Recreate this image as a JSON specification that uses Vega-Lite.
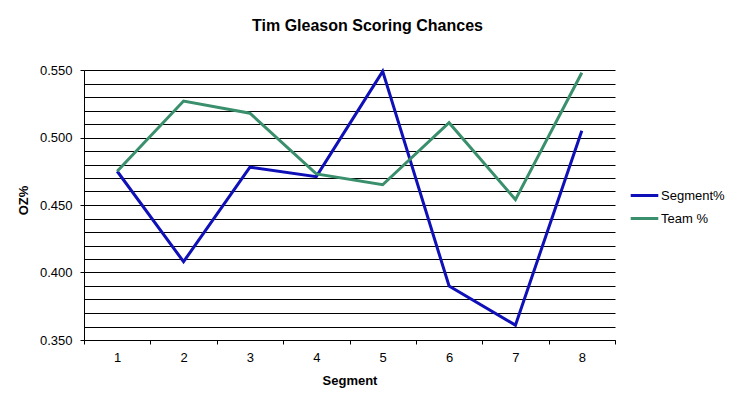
{
  "$schema": "https://vega.github.io/schema/vega-lite/v6.json",
  "width": 531,
  "height": 270,
  "autosize": {"type": "none"},
  "padding": {"left": 84, "top": 70, "right": 120, "bottom": 68},
  "background": "white",
  "config": {
    "view": {"stroke": null},
    "font": "Liberation Sans",
    "axis": {"labelFont": "Liberation Sans", "titleFont": "Liberation Sans", "labelColor": "black", "titleColor": "black", "domainColor": "black", "tickColor": "black", "labelFontSize": 13, "titleFontSize": 13, "titleFontWeight": "bold"}
  },
  "title": {"text": "Tim Gleason Scoring Chances", "font": "Liberation Sans", "fontSize": 16, "fontWeight": "bold", "color": "black", "anchor": "middle", "dx": 18, "offset": 30},
  "data": {
    "values": [
      {"segment": 1, "series": "Segment%", "value": 0.475},
      {"segment": 2, "series": "Segment%", "value": 0.408},
      {"segment": 3, "series": "Segment%", "value": 0.478},
      {"segment": 4, "series": "Segment%", "value": 0.471},
      {"segment": 5, "series": "Segment%", "value": 0.549},
      {"segment": 6, "series": "Segment%", "value": 0.390},
      {"segment": 7, "series": "Segment%", "value": 0.361},
      {"segment": 8, "series": "Segment%", "value": 0.505},
      {"segment": 1, "series": "Team %", "value": 0.475},
      {"segment": 2, "series": "Team %", "value": 0.527},
      {"segment": 3, "series": "Team %", "value": 0.518},
      {"segment": 4, "series": "Team %", "value": 0.473},
      {"segment": 5, "series": "Team %", "value": 0.465},
      {"segment": 6, "series": "Team %", "value": 0.511},
      {"segment": 7, "series": "Team %", "value": 0.454},
      {"segment": 8, "series": "Team %", "value": 0.548}
    ]
  },
  "mark": {"type": "line", "strokeWidth": 3},
  "encoding": {
    "x": {
      "field": "segment", "type": "ordinal", "bandPosition": 0.5,
      "scale": {"type": "band", "paddingInner": 0, "paddingOuter": 0},
      "axis": {"title": "Segment", "labelAngle": 0, "tickBand": "extent", "tickSize": 4, "labelPadding": 7, "titlePadding": 10, "grid": false}
    },
    "y": {
      "field": "value", "type": "quantitative",
      "scale": {"domain": [0.35, 0.55], "nice": false, "zero": false},
      "axis": {
        "title": "OZ%",
        "values": [0.35, 0.36, 0.37, 0.38, 0.39, 0.40, 0.41, 0.42, 0.43, 0.44, 0.45, 0.46, 0.47, 0.48, 0.49, 0.50, 0.51, 0.52, 0.53, 0.54, 0.55],
        "labelExpr": "abs(datum.value*20 - round(datum.value*20)) < 0.001 ? format(datum.value, '.3f') : ''",
        "labelOverlap": false,
        "tickSize": 4,
        "labelPadding": 8,
        "tickOpacity": {"condition": {"test": "abs(datum.value*20 - round(datum.value*20)) < 0.001", "value": 1}, "value": 0},
        "grid": true, "gridColor": "black", "gridOpacity": 1, "gridWidth": 1,
        "titleX": -54, "titleY": 130, "titleAngle": -90
      }
    },
    "color": {
      "field": "series", "type": "nominal",
      "scale": {"domain": ["Segment%", "Team %"], "range": ["#1010B8", "#3A8F6C"]},
      "legend": {"title": null, "orient": "none", "legendX": 545, "legendY": 110, "symbolType": "stroke", "symbolSize": 760, "symbolStrokeWidth": 3, "labelFont": "Liberation Sans", "labelFontSize": 13, "labelColor": "black", "labelOffset": 1, "rowPadding": -4}
    }
  }
}
